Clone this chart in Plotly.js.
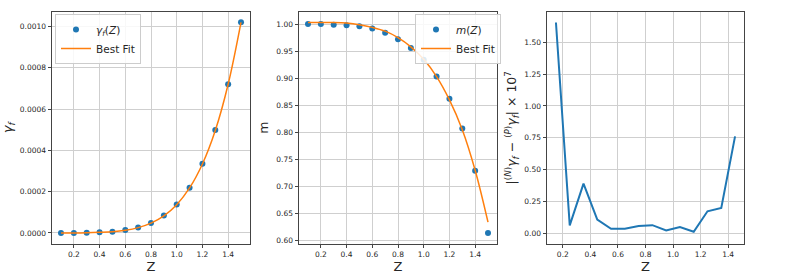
<!DOCTYPE html>
<html>
<head>
<meta charset="utf-8">
<script src="https://cdn.plot.ly/plotly-3.0.1.min.js"></script>
<style>html,body{margin:0;padding:0;background:#fff;}#plot{width:789px;height:275px;}</style>
</head>
<body>
<div id="plot"></div>
<script>
// ---- data ----
const Z = [0.1, 0.2, 0.3, 0.4, 0.5, 0.6, 0.7, 0.8, 0.9, 1.0, 1.1, 1.2, 1.3, 1.4, 1.5];
const gammaF = [0.0, 0.0, 0.000001, 0.000003, 0.000006, 0.000014, 0.000026, 0.000048, 0.000084, 0.000138, 0.000219, 0.000335, 0.000498, 0.00072, 0.00102];
const gammaFit = [0.0, 0.0, 0.000001, 0.000003, 0.000006, 0.000013, 0.000026, 0.000048, 0.000083, 0.000137, 0.000218, 0.000334, 0.000496, 0.00072, 0.00102];
const mVals = [1.000, 1.000, 0.999, 0.998, 0.996, 0.992, 0.984, 0.972, 0.956, 0.934, 0.903, 0.862, 0.807, 0.729, 0.614];
const mFit = [1.003, 1.003, 1.003, 1.002, 0.999, 0.994, 0.987, 0.975, 0.958, 0.935, 0.903, 0.860, 0.805, 0.730, 0.634];
const Zmid = [0.15, 0.25, 0.35, 0.45, 0.55, 0.65, 0.75, 0.85, 0.95, 1.05, 1.15, 1.25, 1.35, 1.45];
const diff = [1.656, 0.06, 0.389, 0.106, 0.034, 0.034, 0.055, 0.062, 0.021, 0.047, 0.01, 0.171, 0.197, 0.76];
const xTicks = [0.2, 0.4, 0.6, 0.8, 1.0, 1.2, 1.4];

const blue = '#1f77b4', orange = '#ff7f0e';
const font = {family: 'DejaVu Sans', size: 7.5, color: '#262626'};

const traces = [
  {x: Z, y: gammaF, type: 'scatter', mode: 'markers', name: '<i>γ<sub>f</sub></i>(<i>Z</i>)',
   marker: {color: blue, size: 6}, xaxis: 'x', yaxis: 'y', legend: 'legend'},
  {x: Z, y: gammaFit, type: 'scatter', mode: 'lines', name: 'Best Fit',
   line: {color: orange, width: 1.5, shape: 'spline'}, xaxis: 'x', yaxis: 'y', legend: 'legend'},
  {x: Z, y: mVals, type: 'scatter', mode: 'markers', name: '<i>m</i>(<i>Z</i>)',
   marker: {color: blue, size: 6}, xaxis: 'x2', yaxis: 'y2', legend: 'legend2'},
  {x: Z, y: mFit, type: 'scatter', mode: 'lines', name: 'Best Fit',
   line: {color: orange, width: 1.5, shape: 'spline'}, xaxis: 'x2', yaxis: 'y2', legend: 'legend2'},
  {x: Zmid, y: diff, type: 'scatter', mode: 'lines', showlegend: false,
   line: {color: blue, width: 2}, xaxis: 'x3', yaxis: 'y3'}
];

const W = 789, H = 275;
const yDom = [(H - 243.5) / H, (H - 12) / H];
function xax(d0, d1, range, anchor) {
  return {
    domain: [d0 / W, d1 / W], range: range, anchor: anchor,
    tickvals: xTicks, ticktext: xTicks.map(v => v.toFixed(1)),
    showline: true, mirror: true, linecolor: '#444', linewidth: 1,
    ticks: 'outside', ticklen: 3.5, tickcolor: '#444', tickwidth: 1,
    showgrid: true, gridcolor: '#cfcfcf', gridwidth: 1, zeroline: false,
    tickfont: font,
    title: {text: 'Z', font: {family: 'DejaVu Sans', size: 13, color: '#262626'}, standoff: 2}
  };
}
function yax(range, dtick, fmt, anchor, title, tsize) {
  return {
    domain: yDom, range: range, anchor: anchor, dtick: dtick, tick0: 0, tickformat: fmt,
    showline: true, mirror: true, linecolor: '#444', linewidth: 1,
    ticks: 'outside', ticklen: 3.5, tickcolor: '#444', tickwidth: 1,
    showgrid: true, gridcolor: '#cfcfcf', gridwidth: 1, zeroline: false,
    tickfont: font,
    title: {text: title, font: {family: 'DejaVu Sans', size: tsize, color: '#262626'}, standoff: 4}
  };
}

const legFont = {family: 'DejaVu Sans', size: 10.5, color: '#262626'};
const layout = {
  width: W, height: H,
  margin: {l: 0, r: 0, t: 0, b: 0},
  paper_bgcolor: '#fff', plot_bgcolor: '#fff',
  font: font,
  xaxis: xax(52, 250, [0.03, 1.57], 'y'),
  yaxis: yax([-0.000051, 0.00107], 0.0002, '.4f', 'x', '<i>γ<sub>f</sub></i>', 13),
  xaxis2: xax(299, 497, [0.03, 1.57], 'y2'),
  yaxis2: yax([0.5946, 1.0224], 0.05, '.2f', 'x2', 'm', 12.5),
  xaxis3: xax(547, 744, [0.085, 1.515], 'y3'),
  yaxis3: yax([-0.0823, 1.7385], 0.25, '.2f', 'x3', '|<sup>(<i>N</i>)</sup><i>γ<sub>f</sub></i> − <sup>(<i>P</i>)</sup><i>γ<sub>f</sub></i>| × 10<sup>7</sup>', 12.5),
  legend: {x: 55 / W, y: (H - 14) / H, xanchor: 'left', yanchor: 'top', bgcolor: 'rgba(255,255,255,0.85)',
           bordercolor: '#ccc', borderwidth: 1, font: legFont, tracegroupgap: 0, itemwidth: 30},
  legend2: {x: 415 / W, y: (H - 14) / H, xanchor: 'left', yanchor: 'top', bgcolor: 'rgba(255,255,255,0.85)',
            bordercolor: '#ccc', borderwidth: 1, font: legFont, tracegroupgap: 0, itemwidth: 30}
};

Plotly.newPlot('plot', traces, layout, {staticPlot: true, displayModeBar: false});
</script>
</body>
</html>
